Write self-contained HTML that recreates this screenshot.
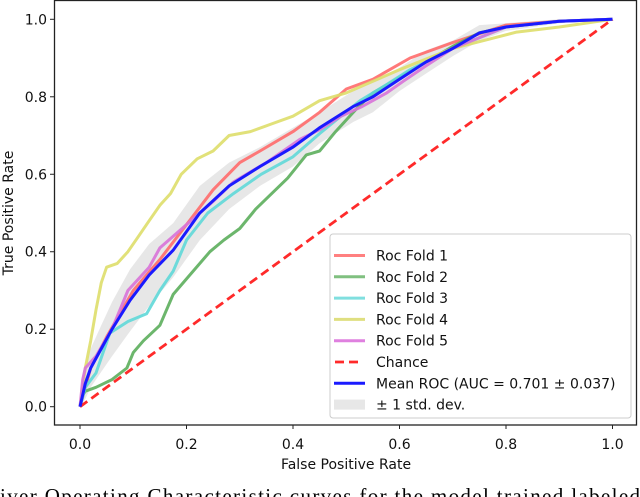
<!DOCTYPE html>
<html><head><meta charset="utf-8"><style>
html,body{margin:0;padding:0;background:#fff;width:640px;height:497px;overflow:hidden}
svg{display:block;font-family:"DejaVu Sans","Liberation Sans",sans-serif}
</style></head><body>
<svg id="chart" width="640" height="497" viewBox="0 0 640 497">
<g id="plot"></g>
<g id="axes"></g>
<g id="legend"></g>
<text x="0" y="503" font-family="Liberation Serif, serif" font-size="21" textLength="640">iver Operating Characteristic curves for the model trained labeled</text>
</svg>
<script>
const xTicks=[0,0.2,0.4,0.6,0.8,1.0];
const yTicks=[0,0.2,0.4,0.6,0.8,1.0];
const fold1X=[0,.02,.05,.1,.15,.2,.25,.3,.338,.4,.45,.5,.55,.62,.7,.8,.9,1];
const fold1Y=[0,.1,.18,.3,.38,.47,.56,.63,.66,.71,.76,.82,.845,.9,.94,.985,.995,1];
const fold2X=[0,.005,.01,.03,.06,.088,.1,.119,.15,.175,.2,.244,.27,.3,.33,.36,.39,.425,.45,.48,.52,.55,.6,.65,.7,.75,.8,.9,1];
const fold2Y=[0,.03,.04,.05,.07,.10,.14,.17,.21,.29,.33,.40,.43,.46,.51,.55,.59,.65,.66,.71,.77,.81,.85,.89,.93,.965,.98,.995,1];
const fold3X=[0,.01,.03,.056,.09,.125,.15,.175,.2,.24,.288,.34,.4,.45,.49,.526,.58,.62,.7,.8,.9,1];
const fold3Y=[0,.05,.087,.19,.22,.24,.3,.35,.43,.5,.55,.6,.645,.705,.75,.79,.835,.87,.925,.98,.995,1];
const fold4X=[0,.01,.02,.03,.04,.05,.07,.09,.11,.13,.15,.17,.19,.22,.25,.28,.32,.36,.4,.45,.5,.55,.6,.7,.82,.9,.95,1];
const fold4Y=[0,.1,.17,.25,.32,.36,.37,.4,.44,.48,.52,.55,.6,.64,.66,.70,.71,.73,.75,.79,.81,.84,.87,.925,.967,.98,.99,1];
const fold5X=[0,.005,.01,.03,.06,.09,.13,.15,.2,.25,.288,.35,.413,.45,.49,.53,.576,.607,.65,.7,.8,.9,1];
const fold5Y=[0,.07,.1,.13,.2,.3,.36,.41,.47,.53,.58,.63,.69,.715,.75,.775,.81,.84,.88,.925,.98,.995,1];
const meanX=[0,.01,.02,.04,.06,.094,.13,.175,.225,.28,.338,.4,.45,.513,.55,.6,.65,.7,.75,.8,.9,1];
const meanY=[0,.06,.1,.15,.2,.275,.34,.404,.5,.57,.62,.67,.72,.775,.80,.845,.89,.925,.965,.98,.995,1];
const meanStd=[0,.04,.05,.06,.07,.08,.08,.07,.07,.06,.05,.05,.04,.04,.04,.03,.03,.02,.02,.01,.005,0];
const legendLabels=["Roc Fold 1","Roc Fold 2","Roc Fold 3","Roc Fold 4","Roc Fold 5","Chance","Mean ROC (AUC = 0.701 \u00b1 0.037)","\u00b1 1 std. dev."];

const NS="http://www.w3.org/2000/svg";
const X0=80,X1=612.5,Y0=406.7,Y1=19.3;
const sx=v=>X0+v*(X1-X0);
const sy=v=>Y0-v*(Y0-Y1);
function mk(tag,attrs,parent){const e=document.createElementNS(NS,tag);for(const k in attrs)e.setAttribute(k,attrs[k]);parent.appendChild(e);return e;}
const plot=document.getElementById('plot'),axes=document.getElementById('axes'),leg=document.getElementById('legend');
function pathD(xs,ys){return xs.map((x,i)=>(i?'L':'M')+sx(x).toFixed(1)+' '+sy(ys[i]).toFixed(1)).join(' ');}

// std band
let up=meanX.map((x,i)=>[sx(x),sy(Math.min(1,meanY[i]+meanStd[i]))]);
let lo=meanX.map((x,i)=>[sx(x),sy(Math.max(0,meanY[i]-meanStd[i]))]).reverse();
const band=mk('path',{d:'M'+up.concat(lo).map(p=>p[0].toFixed(1)+' '+p[1].toFixed(1)).join(' L')+'Z',fill:'#888',opacity:'0.2'},plot);



const folds=[[fold1X,fold1Y,'#ff6a6a','fold-1-line'],[fold2X,fold2Y,'#5cae5c','fold-2-line'],[fold3X,fold3Y,'#5fd8d8','fold-3-line'],[fold4X,fold4Y,'#dede6a','fold-4-line'],[fold5X,fold5Y,'#d872d8','fold-5-line']];
folds.forEach(f=>{
  const p=mk('path',{d:pathD(f[0],f[1]),fill:'none',stroke:f[2],'stroke-width':'3','stroke-opacity':'0.9','stroke-linejoin':'round'},plot);
  
  
});
const ch=mk('line',{x1:sx(0),y1:sy(0),x2:sx(1),y2:sy(1),stroke:'#ff2a2a','stroke-width':'2.8','stroke-dasharray':'9,5'},plot);


const mp=mk('path',{d:pathD(meanX,meanY),fill:'none',stroke:'#1a1aff','stroke-width':'3'},plot);



// axes frame
const fr=mk('rect',{x:54.5,y:0.5,width:582,height:424.5,fill:'none',stroke:'#222','stroke-width':'1.3'},axes);


xTicks.forEach(v=>{
  mk('line',{x1:sx(v),x2:sx(v),y1:425,y2:429,stroke:'#222','stroke-width':'1'},axes);
  const t=mk('text',{x:sx(v),y:449,'text-anchor':'middle','font-size':'14',fill:'#111'},axes);
  t.textContent=v.toFixed(1);
  
  
});
yTicks.forEach(v=>{
  mk('line',{x1:50,x2:54,y1:sy(v),y2:sy(v),stroke:'#222','stroke-width':'1'},axes);
  const t=mk('text',{x:47,y:sy(v)+5,'text-anchor':'end','font-size':'14',fill:'#111'},axes);
  t.textContent=v.toFixed(1);
  
  
});
const xl=mk('text',{x:346,y:469,'text-anchor':'middle','font-size':'14',fill:'#111'},axes);
xl.textContent='False Positive Rate';


const yl=mk('text',{x:0,y:0,'text-anchor':'middle','font-size':'14',fill:'#111',transform:'translate(13,213) rotate(-90)'},axes);
yl.textContent='True Positive Rate';



// legend
const lb=mk('rect',{x:330,y:234,width:301,height:184,rx:3,fill:'#fff','fill-opacity':'0.85',stroke:'#ccc','stroke-width':'1'},leg);


const handleColors=['#ff8080','#80c080','#80dfdf','#dfdf80','#df80df','#ff2a2a','#1a1aff'];
legendLabels.forEach((lab,i)=>{
  const y=255.5+i*21.3;
  const g=mk('g',{},leg);
  
  
  if(i<5) mk('line',{x1:334,x2:365,y1:y,y2:y,stroke:handleColors[i],'stroke-width':'3'},g);
  else if(i==5) mk('line',{x1:335,x2:362,y1:y,y2:y,stroke:handleColors[i],'stroke-width':'2.8','stroke-dasharray':'9,5'},g);
  else if(i==6) mk('line',{x1:334,x2:365,y1:y,y2:y,stroke:handleColors[i],'stroke-width':'3'},g);
  else mk('rect',{x:334,y:y-5,width:31,height:10,fill:'#888',opacity:'0.2'},g);
  const t=mk('text',{x:376,y:y+5,'font-size':'14',fill:'#111'},g);
  t.textContent=lab;
});
</script>
</body></html>
